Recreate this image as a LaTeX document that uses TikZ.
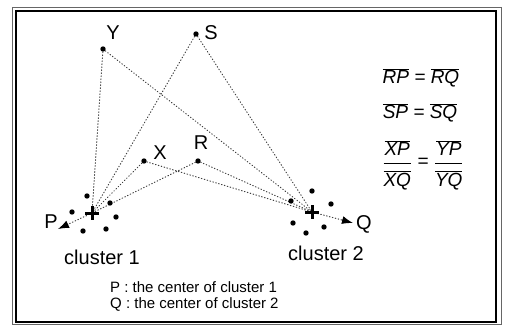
\documentclass[tikz,border=0pt]{standalone}
\usepackage{fontspec}
\setmainfont{Liberation Sans}
\usetikzlibrary{arrows.meta}
\tikzset{
  dotpt/.style={circle,fill=black,inner sep=0pt,minimum size=5.4pt},
  lbl/.style={font=\fontsize{20}{22}\selectfont,inner sep=0pt},
  dline/.style={line width=1pt,dash pattern=on 0.7pt off 2.3pt,line cap=round,draw=black!75},
  crossline/.style={line width=3pt},
  tipline/.style={line width=1pt,-{Latex[length=11pt,width=8pt]}},
  eq/.style={font=\fontsize{19}{22}\selectfont\itshape,inner sep=0pt}
}
\begin{document}
\begin{tikzpicture}[x=1pt,y=-1pt]
\useasboundingbox (0,0) rectangle (507,325);
\draw[line width=0.6pt,black!60] (12,7) rectangle (501,324);
\draw[line width=1.8pt] (16,11) rectangle (496,322);

% points
\node[dotpt] (Y) at (103,49) {};
\node[dotpt] (S) at (196,34) {};
\node[dotpt] (X) at (144,161) {};
\node[dotpt] (R) at (198,161) {};
\node[lbl] (Yl) at (113,33) {Y};
\node[lbl] (Sl) at (211,33) {S};
\node[lbl] (Xl) at (160,153) {X};
\node[lbl] (Rl) at (201,143) {R};

% centers
\coordinate (P) at (92,213);
\coordinate (Q) at (312,212);
\coordinate (Ptip) at (58,229);
\coordinate (Qtip) at (353,223);
\coordinate (Pa) at (68,224.3);
\coordinate (Qa) at (342,220);

% dotted connections
\foreach \a in {Y,S,X,R} {
  \draw[dline] (\a) -- (P);
  \draw[dline] (\a) -- (Q);
}
\draw[dline] (P) -- (Pa);
\draw[dline] (Q) -- (Qa);
\draw[tipline] (Pa) -- (Ptip);
\draw[tipline] (Qa) -- (Qtip);

\draw[crossline] (P) ++(-7,0) -- ++(14,0);
\draw[crossline] (P) ++(0,-7) -- ++(0,14);
\draw[crossline] (Q) ++(-7,0) -- ++(14,0);
\draw[crossline] (Q) ++(0,-7) -- ++(0,14);
\node[lbl] (Pl) at (51,222) {P};
\node[lbl] (Ql) at (364,224) {Q};

% cluster 1 members
\node[dotpt] (a1) at (87,196) {};
\node[dotpt] (a2) at (72,212) {};
\node[dotpt] (a3) at (83,231) {};
\node[dotpt] (a4) at (106,229) {};
\node[dotpt] (a5) at (116,217) {};
\node[dotpt] (a6) at (110,203) {};
% cluster 2 members
\node[dotpt] (b1) at (312,191) {};
\node[dotpt] (b2) at (331,204) {};
\node[dotpt] (b3) at (291,201) {};
\node[dotpt] (b4) at (293,223) {};
\node[dotpt] (b5) at (306,233) {};
\node[dotpt] (b6) at (324,227) {};

\node[lbl] (c1) at (102,257) {cluster 1};
\node[lbl] (c2) at (326,253) {cluster 2};

\node[font=\fontsize{15}{17}\selectfont,inner sep=0pt,anchor=west] (L1) at (110,287) {P : the center of cluster 1};
\node[font=\fontsize{15}{17}\selectfont,inner sep=0pt,anchor=west] (L2) at (110,304) {Q : the center of cluster 2};

% equations
\node[eq] (E1) at (421,78) {$\overline{\mbox{\itshape RP}}$ = $\overline{\mbox{\itshape RQ}}$};
\node[eq] (E2) at (420,113) {$\overline{\mbox{\itshape SP}}$ = $\overline{\mbox{\itshape SQ}}$};
\node[eq] (E3) at (423,165) {$\displaystyle\frac{\overline{\mbox{\itshape XP}}\rule[-6pt]{0pt}{6pt}}{\rule{0pt}{22pt}\overline{\mbox{\itshape XQ}}}$ = $\displaystyle\frac{\overline{\mbox{\itshape YP}}\rule[-6pt]{0pt}{6pt}}{\rule{0pt}{22pt}\overline{\mbox{\itshape YQ}}}$};
\end{tikzpicture}
\end{document}
